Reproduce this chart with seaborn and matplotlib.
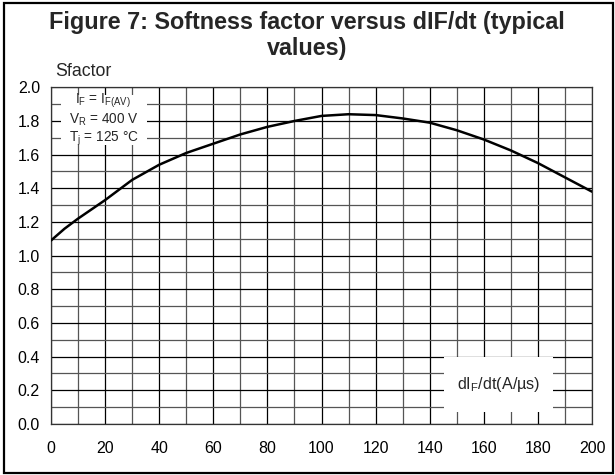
import matplotlib
matplotlib.use("Agg")
import matplotlib.pyplot as plt
from matplotlib.patches import Rectangle
from matplotlib.ticker import MultipleLocator
import pandas as pd
import seaborn as sns

# curve
didt = [0, 5, 10, 20, 30, 40, 50, 60, 70, 80, 90, 100, 110, 120, 130, 140,
        150, 160, 170, 180, 190, 200]
sfactor = [1.09, 1.16, 1.22, 1.33, 1.45, 1.54, 1.61, 1.665, 1.72, 1.765, 1.80,
           1.83, 1.84, 1.835, 1.815, 1.79, 1.745, 1.69, 1.625, 1.55, 1.465, 1.38]

x_ticks = list(range(0, 201, 20))
y_ticks = [0.0, 0.2, 0.4, 0.6, 0.8, 1.0, 1.2, 1.4, 1.6, 1.8, 2.0]
conditions = ("I$_\\mathregular{F}$ = I$_\\mathregular{F(AV)}$\n"
              "V$_\\mathregular{R}$ = 400 V\n"
              "T$_\\mathregular{j}$ = 125 °C")
x_label = "dI$_\\mathregular{F}$/dt(A/µs)"

df = pd.DataFrame({"didt": didt, "sfactor": sfactor})

sns.set_theme(style="white")
plt.rcParams["font.family"] = ["Liberation Sans", "DejaVu Sans"]
plt.rcParams["mathtext.fontset"] = "custom"
plt.rcParams["mathtext.rm"] = "Liberation Sans"

fig = plt.figure(figsize=(6.15, 4.75), dpi=100)
ax = fig.add_axes([51 / 615, 51 / 475, 541 / 615, 336.7 / 475])

sns.lineplot(data=df, x="didt", y="sfactor", ax=ax, color="black", linewidth=1.8, zorder=3)

ax.set_xlim(0, 200)
ax.set_ylim(0, 2.0)
ax.set_xticks(x_ticks)
ax.set_yticks(y_ticks)
ax.set_yticklabels([f"{v:.1f}" for v in y_ticks])
ax.xaxis.set_minor_locator(MultipleLocator(10))
ax.yaxis.set_minor_locator(MultipleLocator(0.1))
ax.grid(which="major", color="black", linewidth=0.9, zorder=1)
ax.grid(which="minor", color="#555555", linewidth=0.9, zorder=1)
ax.set_axisbelow(True)
ax.tick_params(which="both", length=0, labelsize=11.5, colors="black")
ax.tick_params(axis="x", pad=12)
ax.tick_params(axis="y", pad=8)
for s in ax.spines.values():
    s.set_color("#333333")
    s.set_linewidth(0.9)
ax.set_xlabel("")
ax.set_ylabel("")

# white boxes that hide the grid under the labels
ax.add_patch(Rectangle((3.6, 1.657), 32.0, 0.297, facecolor="white", edgecolor="none", zorder=2))
ax.text(19.4, 1.805, conditions, ha="center", va="center", fontsize=9.8, linespacing=1.15, zorder=4)
ax.add_patch(Rectangle((145.2, 0.071), 40.4, 0.327, facecolor="white", edgecolor="none", zorder=2))
ax.text(165.4, 0.232, x_label, ha="center", va="center", fontsize=11.6, zorder=4)

fig.text(55 / 615, 1 - 72 / 475, "Sfactor", ha="left", va="center", fontsize=12.8)
fig.text(307 / 615, 1 - 10.5 / 475, "Figure 7: Softness factor versus dIF/dt (typical\nvalues)",
         ha="center", va="top", fontsize=16.8, fontweight="bold", linespacing=1.18)

fig.patches.append(Rectangle((4 / 615, 2 / 475), 609 / 615, 470 / 475, transform=fig.transFigure,
                             fill=False, edgecolor="black", linewidth=1.6))

fig.savefig("out.png", dpi=100)
